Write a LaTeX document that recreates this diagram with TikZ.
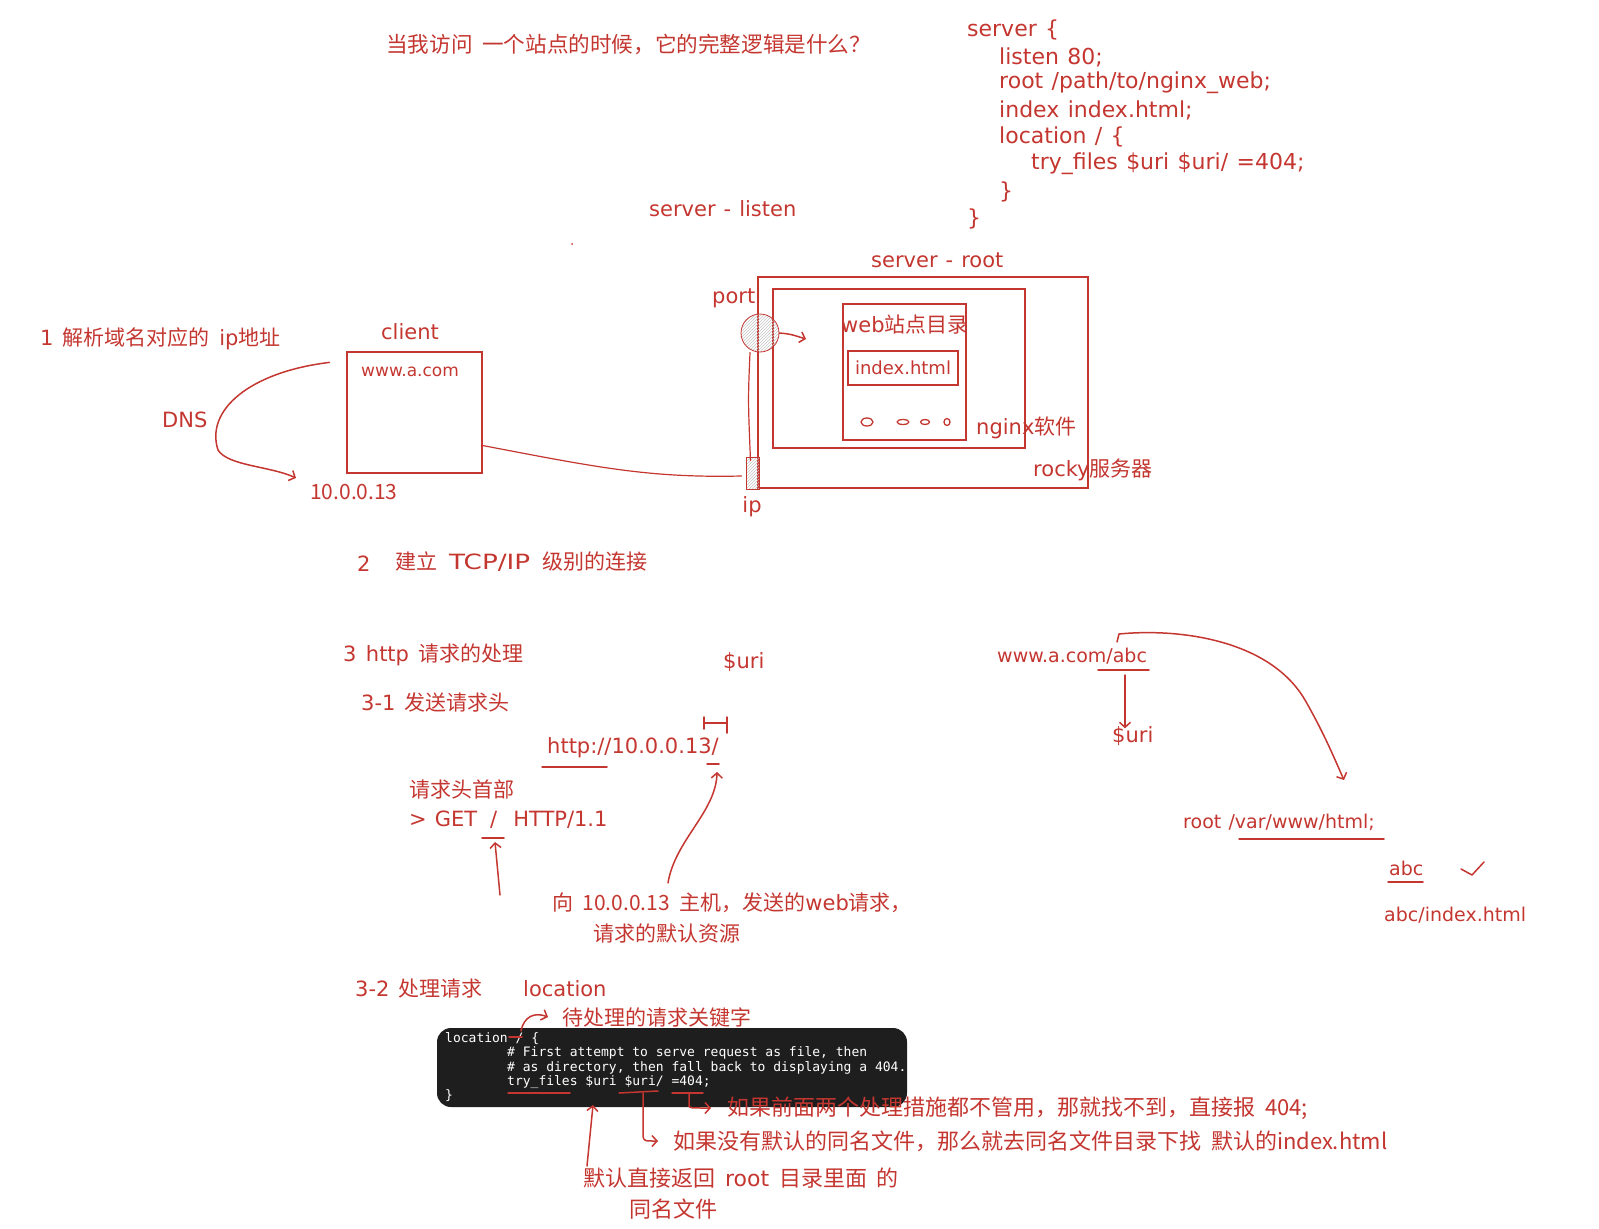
\documentclass[tikz,border=0pt]{standalone}
\usepackage{fontspec}
\setmainfont{Noto Sans CJK SC}[WordSpace=2]
\newfontfamily\hw{DejaVu Sans}[WordSpace=1.2]
\newfontfamily\monofont{DejaVu Sans Mono}
\newcommand\hand[1]{{\hw #1}}
\usetikzlibrary{arrows.meta,patterns}
\definecolor{ink}{RGB}{196,54,48}
\definecolor{codebg}{RGB}{30,30,30}

\begin{document}
\begin{tikzpicture}[x=1pt,y=-1pt,>={Straight Barb[length=5pt,width=11pt]},
  lbl/.style={text=ink,inner sep=0pt,anchor=west,font=\fontsize{21}{25}\selectfont},
  big/.style={lbl,font=\fontsize{22}{26}\selectfont},
  latin/.style={lbl,font=\hw\fontsize{21}{25}\selectfont},
  latinsm/.style={lbl,font=\hw\fontsize{19}{22}\selectfont},
  box/.style={draw=ink,line width=1.2pt,inner sep=0pt},
  ln/.style={draw=ink,line width=1.5pt,line cap=round,line join=round},
  hatch/.style={draw=ink,line width=0.8pt,pattern=north east lines,pattern color=gray!45},
  src/.style={text=white,inner sep=0pt,anchor=west,font=\monofont\fontsize{13}{15}\selectfont}]
\useasboundingbox (0,0) rectangle (1599,1229);

% title and config
\node[lbl,font=\fontsize{21.6}{25}\selectfont] (title) at (386,44) {当我访问 一个站点的时候，它的完整逻辑是什么？};
\node[latin,font=\hw\fontsize{22}{26}\selectfont] (cfg1) at (967,30) {server \{};
\node[latin,font=\hw\fontsize{22}{26}\selectfont] (cfg2) at (999,57) {listen 80;};
\node[latin,font=\hw\fontsize{22}{26}\selectfont] (cfg3) at (999,83) {root /path/to/nginx\_web;};
\node[latin,font=\hw\fontsize{22}{26}\selectfont] (cfg4) at (999,110) {index index.html;};
\node[latin,font=\hw\fontsize{22}{26}\selectfont] (cfg5) at (999,137) {location / \{};
\node[latin,font=\hw\fontsize{22}{26}\selectfont] (cfg6) at (1031,164) {try\_files \$uri \$uri/ =404;};
\node[latin,font=\hw\fontsize{22}{26}\selectfont] (cfg7) at (999,192) {\}};
\node[latin,font=\hw\fontsize{22}{26}\selectfont] (cfg8) at (967,219) {\}};

% step 1
\node[latin] (listen) at (649,209) {server - listen};
\fill[ink] (572,244) circle (1pt);
\node[latin] (rootlbl) at (871,260) {server - root};
\node[box,minimum width=330pt,minimum height=211pt] (rocky) at (923,382.5) {};
\node[box,minimum width=252pt,minimum height=159pt] (nginx) at (899,368.5) {};
\node[box,minimum width=123pt,minimum height=136pt] (webdir) at (904.5,372) {};
\node[box,minimum width=110pt,minimum height=34pt,text=ink,font=\hw\fontsize{18}{20}\selectfont] (index) at (903,368) {index.html};
\node[lbl] (weblbl) at (841,325) {\hand{web}站点目录};
\draw[ln,line width=1.3pt] (867,422) ellipse (6pt and 4pt);
\draw[ln,line width=1.3pt] (903,422) ellipse (6pt and 2.5pt);
\draw[ln,line width=1.3pt] (925,422) ellipse (4.5pt and 2.5pt);
\draw[ln,line width=1.3pt] (947,422) ellipse (3pt and 3.5pt);
\node[lbl] (nginxlbl) at (976,428) {\hand{nginx}软件};
\node[lbl] (rockylbl) at (1033,470) {\hand{rocky}服务器};
\node[circle,hatch,minimum size=38pt,inner sep=0pt] (port) at (760,333) {};
\node[latin] (portlbl) at (712,298) {port};
\node[hatch,minimum width=13pt,minimum height=32pt,inner sep=0pt] (ip) at (752.5,473) {};
\node[latin,anchor=center] (iplbl) at (752,507) {ip};
\coordinate (portin) at (806,339);
\draw[ln,->] (port.east) .. controls (790,334) .. (portin);
\draw[ln,line width=1.2pt] ([xshift=-10pt]port.south) .. controls (748,400) .. ([xshift=-2pt,yshift=-4pt]ip.north);

\node[box,minimum width=135pt,minimum height=121pt] (client) at (414.5,412.5) {};
\node[latin,font=\hw\fontsize{17}{20}\selectfont] (domain) at (361,372) {www.a.com};
\node[latin,anchor=center] (clientlbl) at (410,332) {client};
\node[lbl] (step1) at (40,339) {\hand{1} 解析域名对应的 \hand{ip}地址};
\node[latin] (dns) at (162,420) {DNS};
\node[lbl] (addr) at (310,492) {10.0.0.13};
\draw[ln,->] ([shift={(-17,11)}]client.north west) .. controls (250,372) and (205,410) .. (218,450)
  .. controls (228,466) and (270,466) .. ([shift={(-14,-14)}]addr.west);
\draw[ln,line width=1.2pt] ([yshift=-33pt]client.east) .. controls (600,468) and (650,478) .. ([shift={(-4,3)}]ip.west);

% step 2
\node[latin] (two) at (357,564) {2};
\node[lbl] (step2) at (395,562) {建立\hspace{12pt}\scalebox{1.25}[1]{\hand{TCP/IP}}\hspace{12pt}级别的连接};

% step 3-1
\node[lbl] (step3) at (343,655) {\hand{3} \hand{http} 请求的处理};
\node[lbl] (step31) at (361,703) {\hand{3-1} 发送请求头};
\node[latin] (urilbl) at (723,662) {\$uri};
\node[latin] (url) at (547,748) {http://10.0.0.13/};
\draw[ln] (542,767) -- (607,767);
\draw[ln] (704,717) -- (704,729) (704,723) -- (727,723) (727,717) -- (727,733);
\draw[ln] (707,764) -- (719,764);
\node[lbl] (hdr) at (409,789) {请求头首部};
\node[latin] (get) at (409,820) {> GET\hspace{13pt}/\hspace{16pt}HTTP/1.1};
\draw[ln] (482,838) -- (504,838);
\coordinate (slash) at (495,842);
\draw[ln,->] (500,895) -- (slash);
\node[lbl] (req) at (552,903) {向 10.0.0.13 主机，发送的\hand{web}请求，};
\node[lbl] (req2) at (593,933) {请求的默认资源};
\coordinate (uritip) at (717,772);
\draw[ln,->] ([shift={(116,-20)}]req.west) .. controls (675,840) and (716,812) .. (uritip);

% step 3-2
\node[lbl] (step32) at (355,989) {\hand{3-2} 处理请求};
\node[latin] (loclbl) at (523,989) {location};
\node[lbl] (keyword) at (562,1017) {待处理的请求关键字};
\node[fill=codebg,rounded corners=14pt,minimum width=470pt,minimum height=79pt] (codebox) at (672,1067.5) {};
\node[src] (code1) at (445,1039) {location / \{};
\node[src] (code2) at (507,1053) {\# First attempt to serve request as file, then};
\node[src] (code3) at (507,1068) {\# as directory, then fall back to displaying a 404.};
\node[src] (code4) at (507,1082) {try\_files \$uri \$uri/ =404;};
\node[src] (code5) at (445,1096) {\}};
\draw[ln] (509,1037) -- (522,1037);
\draw[ln,->] (521,1031) .. controls (524,1016) and (535,1012) .. ([xshift=-14pt]keyword.west);
\draw[ln] (508,1093) -- (570,1093);
\draw[ln] (619,1093) -- (658,1091);
\draw[ln] (672,1093) -- (703,1093);
\node[big] (fail) at (727,1108) {如果前面两个处理措施都不管用，那就找不到，直接报 404;};
\node[big] (dirlbl) at (673,1141) {如果没有默认的同名文件，那么就去同名文件目录下找 默认的index.html};
\draw[ln,->] (689,1093) -- (689,1106) .. controls (690,1108) .. ([xshift=-16pt]fail.west);
\draw[ln,->] (643,1093) -- (643,1136) .. controls (644,1141) .. ([xshift=-15pt]dirlbl.west);
\node[big] (same) at (583,1178) {默认直接返回 \hand{root} 目录里面 的};
\node[big] (same2) at (629,1209) {同名文件};
\draw[ln,->] ([shift={(4,-12)}]same.west) -- (593,1105);

% right side
\node[latinsm] (abcurl) at (997,656) {www.a.com/abc};
\draw[ln] (1098,670) -- (1149,670);
\node[latin] (uri2) at (1112,736) {\$uri};
\draw[ln,->] (1125,675) -- ([xshift=13pt,yshift=-2pt]uri2.north west);
\node[latinsm] (www) at (1183,822) {root /var/www/html;};
\draw[ln,->] (1117,642) -- (1119,634) .. controls (1180,628) and (1270,640) .. (1305,700)
  .. controls (1325,735) and (1335,760) .. ([shift={(161,-42)}]www.west);
\draw[ln] (1239,839) -- (1384,839);
\node[latinsm] (abc) at (1389,868) {abc};
\draw[ln] (1388,882) -- (1423,882);
\draw[ln] (1461,869) -- (1472,875) -- (1484,862);
\node[latinsm] (abcidx) at (1384,915) {abc/index.html};
\end{tikzpicture}
\end{document}
